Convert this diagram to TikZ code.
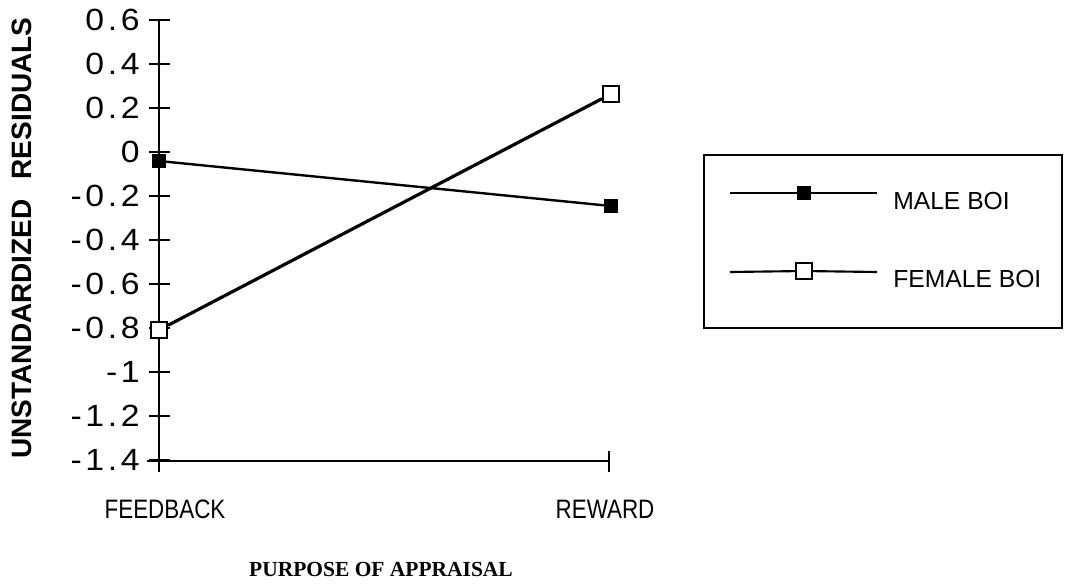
\documentclass[tikz,border=0pt]{standalone}
\usepackage{fontspec}
\setmainfont{Liberation Sans}
\newfontfamily\tickfont[FakeStretch=1.1,LetterSpace=12]{Liberation Sans}
\newfontfamily\catfont[FakeStretch=0.84]{Liberation Sans}
\newfontfamily\serifbold{Liberation Serif}
\begin{document}
\begin{tikzpicture}[x=0.75pt,y=-0.75pt,
  axisline/.style={line width=2pt},
  ticklabel/.style={anchor=east,inner sep=0pt,font=\tickfont\fontsize{23}{27}\selectfont},
  catlabel/.style={inner sep=0pt,font=\catfont\fontsize{20}{24}\selectfont},
  legtext/.style={anchor=west,inner sep=0pt,font=\fontsize{18.5}{22}\selectfont},
  malemark/.style={rectangle,fill=black,draw=black,inner sep=0pt,minimum size=9.5pt},
  femalemark/.style={rectangle,fill=white,draw=black,line width=1.5pt,inner sep=0pt,minimum size=12pt},
  maleline/.style={line width=1.8pt},
  femaleline/.style={line width=2.4pt},
  legline/.style={line width=1.6pt}]
\useasboundingbox (0,0) rectangle (1065,583);

% axes
\coordinate (ytop) at (159,20);
\coordinate (ybot) at (159,472);
\coordinate (xleft) at (147,461);
\coordinate (xright) at (609,461);
\coordinate (rtt) at (609,451);
\coordinate (rtb) at (609,472);
\draw[axisline] (ytop) -- (ybot);
\draw[axisline] (xleft) -- (xright);
\draw[axisline] (rtt) -- (rtb);

% y ticks and labels
\foreach \lab [count=\i from 0] in {0.6,0.4,0.2,0,-0.2,-0.4,-0.6,-0.8,-1,-1.2,-1.4}{
  \pgfmathsetmacro{\yy}{20+44*\i}
  \coordinate (tl\i) at (149,\yy);
  \coordinate (tr\i) at (170,\yy);
  \draw[axisline] (tl\i) -- (tr\i);
  \node[ticklabel] (lab\i) at (140,\yy) {\lab};
}

% y axis title
\node[rotate=90,inner sep=0pt,font=\bfseries\fontsize{21}{25}\selectfont] (ytitle) at (22,238) {UNSTANDARDIZED\hspace{15pt}RESIDUALS};

% category labels
\node[catlabel] (fb) at (165,509) {FEEDBACK};
\node[catlabel] (rw) at (605,509) {REWARD};
\node[inner sep=0pt,font=\serifbold\bfseries\fontsize{16.1}{19}\selectfont] (xtitle) at (381,569) {PURPOSE OF APPRAISAL};

% data
\node[malemark] (m1) at (159,161) {};
\node[malemark] (m2) at (611,206) {};
\node[femalemark] (f1) at (159,330) {};
\node[femalemark] (f2) at (611,94) {};
\draw[maleline] (m1) -- (m2);
\draw[femaleline] (f1) -- (f2);

% legend
\node[draw,line width=1.5pt,minimum width=268.5pt,minimum height=129.75pt,inner sep=0pt] (legend) at (883,241.5) {};
\coordinate (lma) at (730,193);
\coordinate (lmb) at (877,193);
\node[malemark] (lmk) at (804,193) {};
\draw[legline] (lma) -- (lmk) -- (lmb);
\node[legtext] (lmt) at (893,201) {MALE BOI};
\coordinate (lfa) at (730,272);
\coordinate (lfb) at (877,272);
\node[femalemark] (lfk) at (804,271) {};
\draw[legline] (lfa) -- (lfk) -- (lfb);
\node[legtext] (lft) at (893,279) {FEMALE BOI};
\end{tikzpicture}
\end{document}
